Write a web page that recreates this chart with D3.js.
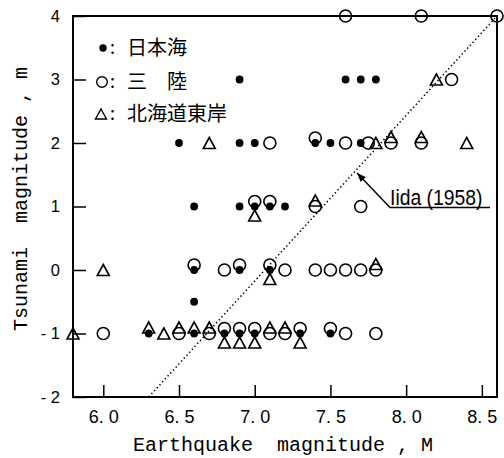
<!DOCTYPE html>
<html>
<head>
<meta charset="utf-8">
<title>Tsunami magnitude vs Earthquake magnitude</title>
<script src="https://d3js.org/d3.v7.min.js"></script>
<style>
  body { margin: 0; background: #fff; }
  svg { display: block; }
</style>
</head>
<body>
<script>
// data: [M, m]
const japanSea = [ // ● 日本海
  [6.9, 3], [7.6, 3], [7.7, 3], [7.8, 3],
  [6.5, 2], [6.9, 2], [7.0, 2], [7.4, 2], [7.5, 2], [7.7, 2],
  [6.6, 1], [6.9, 1], [7.0, 1], [7.1, 1], [7.2, 1],
  [6.6, 0], [6.9, 0], [7.1, 0],
  [6.6, -0.5],
  [6.3, -1], [6.6, -1], [6.8, -1], [6.9, -1], [7.0, -1], [7.3, -1], [7.5, -1]
];
const sanriku = [ // ○ 三陸
  [7.6, 4], [8.1, 4], [8.6, 4],
  [8.3, 3],
  [7.1, 2], [7.4, 2], [7.6, 2], [7.75, 2], [7.9, 2], [8.1, 2],
  [7.0, 1], [7.1, 1], [7.4, 1], [7.7, 1],
  [6.6, 0], [6.8, 0], [6.9, 0], [7.1, 0], [7.2, 0], [7.4, 0], [7.5, 0], [7.6, 0], [7.7, 0], [7.8, 0],
  [6.0, -1], [6.5, -1], [6.7, -1], [6.8, -1], [6.9, -1], [7.0, -1], [7.1, -1], [7.2, -1], [7.3, -1], [7.5, -1], [7.6, -1], [7.8, -1]
];
const hokkaido = [ // △ 北海道東岸
  [8.2, 3],
  [6.7, 2], [7.8, 2], [7.9, 2], [8.1, 2], [8.4, 2],
  [7.0, 1], [7.4, 1],
  [6.0, 0], [7.1, 0], [7.8, 0],
  [5.8, -1], [6.3, -1], [6.4, -1], [6.5, -1], [6.6, -1], [6.7, -1], [6.8, -1], [6.9, -1], [7.0, -1], [7.1, -1], [7.2, -1], [7.3, -1]
];
const iida = [[6.3, -2], [8.6, 4]]; // m = 2.61M - 18.44
const xTicks = [6.0, 6.5, 7.0, 7.5, 8.0, 8.5];
const xTickLabels = ["6. 0", "6. 5", "7. 0", "7. 5", "8. 0", "8. 5"];
const yTicks = [-2, -1, 0, 1, 2, 3, 4];
const yTickLabels = ["- 2", "- 1", "0", "1", "2", "3", "4"];
const legendLabels = ["日本海", "三\u3000陸", "北海道東岸"];

const W = 504, H = 458;
const box = {left: 73, right: 497, top: 16, bottom: 397};

const svg = d3.select("body").append("svg")
  .attr("width", W).attr("height", H);

const x = d3.scaleLinear().domain([5.8, 8.6]).range([box.left, box.right]);
const y = d3.scaleLinear().domain([-2, 4]).range([box.bottom, box.top]);

// frame
svg.append("rect")
  .attr("x", box.left).attr("y", box.top)
  .attr("width", box.right - box.left).attr("height", box.bottom - box.top)
  .attr("fill", "none").attr("stroke", "#000").attr("stroke-width", 2);

// axes (ticks inward)
const xAxis = svg.append("g")
  .attr("transform", "translate(0," + box.bottom + ")")
  .call(d3.axisBottom(x).tickValues(xTicks).tickSize(-12).tickPadding(10)
    .tickFormat((d, i) => xTickLabels[i]));
const yAxis = svg.append("g")
  .attr("transform", "translate(" + box.left + ",0)")
  .call(d3.axisLeft(y).tickValues(yTicks).tickSize(-13).tickPadding(13)
    .tickFormat((d, i) => yTickLabels[i]));
[xAxis, yAxis].forEach(g => {
  g.select(".domain").remove();
  g.selectAll("line").attr("stroke", "#000").attr("stroke-width", 1.5);
  g.selectAll("text").attr("fill", "#000").attr("font-family", "Liberation Sans, Arial, sans-serif");
});
xAxis.selectAll("text").attr("font-size", 18).attr("dy", "0.9em");
yAxis.selectAll("text").attr("font-size", 16.5);

// axis titles
svg.append("text")
  .attr("x", 283).attr("y", 451)
  .attr("text-anchor", "middle")
  .attr("font-family", "Liberation Mono, Courier New, monospace")
  .attr("font-size", 20)
  .style("white-space", "pre")
  .text("Earthquake  magnitude , M");
svg.append("text")
  .attr("transform", "translate(27,199) rotate(-90)")
  .attr("text-anchor", "middle")
  .attr("font-family", "Liberation Mono, Courier New, monospace")
  .attr("font-size", 20)
  .style("white-space", "pre")
  .text("Tsunami  magnitude , m");

// Iida (1958) line
svg.append("path")
  .attr("d", d3.line().x(d => x(d[0])).y(d => y(d[1]))(iida))
  .attr("fill", "none").attr("stroke", "#000")
  .attr("stroke-width", 1.5).attr("stroke-dasharray", "1.4,2.6");

// overlap nudges: points sharing a position are stacked slightly
const key = d => d[0].toFixed(2) + "|" + d[1];
const dotSet = new Set(japanSea.map(key));
const circSet = new Set(sanriku.map(key));
function nudge(kind, d) {
  const k = key(d), dot = dotSet.has(k), circ = circSet.has(k);
  if (kind === "circ") return dot ? -5 : 0;
  if (kind === "tri") return (dot && circ) ? 9 : (dot || circ) ? -6 : 0;
  return 0;
}

const triPath = "M0,-5.5L6,5.5L-6,5.5Z";
const marks = svg.append("g");

function drawCircles(g, data) {
  g.selectAll(null).data(data).join("circle")
    .attr("cx", d => x(d[0])).attr("cy", d => y(d[1]) + nudge("circ", d))
    .attr("r", 6).attr("fill", "none").attr("stroke", "#000").attr("stroke-width", 1.6);
}
function drawTris(g, data) {
  g.selectAll(null).data(data).join("path")
    .attr("d", triPath)
    .attr("transform", d => "translate(" + x(d[0]) + "," + (y(d[1]) + nudge("tri", d)) + ")")
    .attr("fill", "none").attr("stroke", "#000").attr("stroke-width", 1.6)
    .attr("stroke-linejoin", "miter");
}
function drawDots(g, data) {
  g.selectAll(null).data(data).join("circle")
    .attr("cx", d => x(d[0])).attr("cy", d => y(d[1]))
    .attr("r", 3.9).attr("fill", "#000");
}
drawCircles(marks.append("g"), sanriku);
drawTris(marks.append("g"), hokkaido);
drawDots(marks.append("g"), japanSea);

// legend
const legend = svg.append("g").attr("font-family", "Noto Sans CJK JP, sans-serif");
const legY = [48, 82, 114];
legend.append("circle").attr("cx", 103).attr("cy", legY[0]).attr("r", 3.7).attr("fill", "#000");
legend.append("circle").attr("cx", 102).attr("cy", legY[1]).attr("r", 5.3)
  .attr("fill", "none").attr("stroke", "#000").attr("stroke-width", 1.4);
legend.append("path").attr("d", "M0,-5L5.5,5L-5.5,5Z").attr("transform", "translate(101," + legY[2] + ")")
  .attr("fill", "none").attr("stroke", "#000").attr("stroke-width", 1.4);
legendLabels.forEach((t, i) => {
  legend.append("text").attr("x", 110).attr("y", legY[i]).attr("dy", "0.35em")
    .attr("font-size", 18).text(":");
  legend.append("text").attr("x", 127).attr("y", legY[i]).attr("dy", "0.36em")
    .attr("font-size", 20).text(t);
});

// annotation
const ann = svg.append("g");
ann.append("text")
  .attr("transform", "translate(390,205) scale(0.88,1)")
  .attr("font-family", "Liberation Sans, Arial, sans-serif")
  .attr("font-size", 22)
  .text("Iida (1958)");
ann.append("path")
  .attr("d", "M490,207.5L390,207.5L357,173")
  .attr("fill", "none").attr("stroke", "#000").attr("stroke-width", 1.4);
// arrowhead pointing at the line
const ang = Math.atan2(173 - 207.5, 357 - 390);
const ah = 9, aw = 3.5;
const bx = 357 - ah * Math.cos(ang), by = 173 - ah * Math.sin(ang);
ann.append("path")
  .attr("d", "M357,173L" + (bx - aw * Math.sin(ang)) + "," + (by + aw * Math.cos(ang)) +
    "L" + (bx + aw * Math.sin(ang)) + "," + (by - aw * Math.cos(ang)) + "Z")
  .attr("fill", "#000");
</script>
</body>
</html>
